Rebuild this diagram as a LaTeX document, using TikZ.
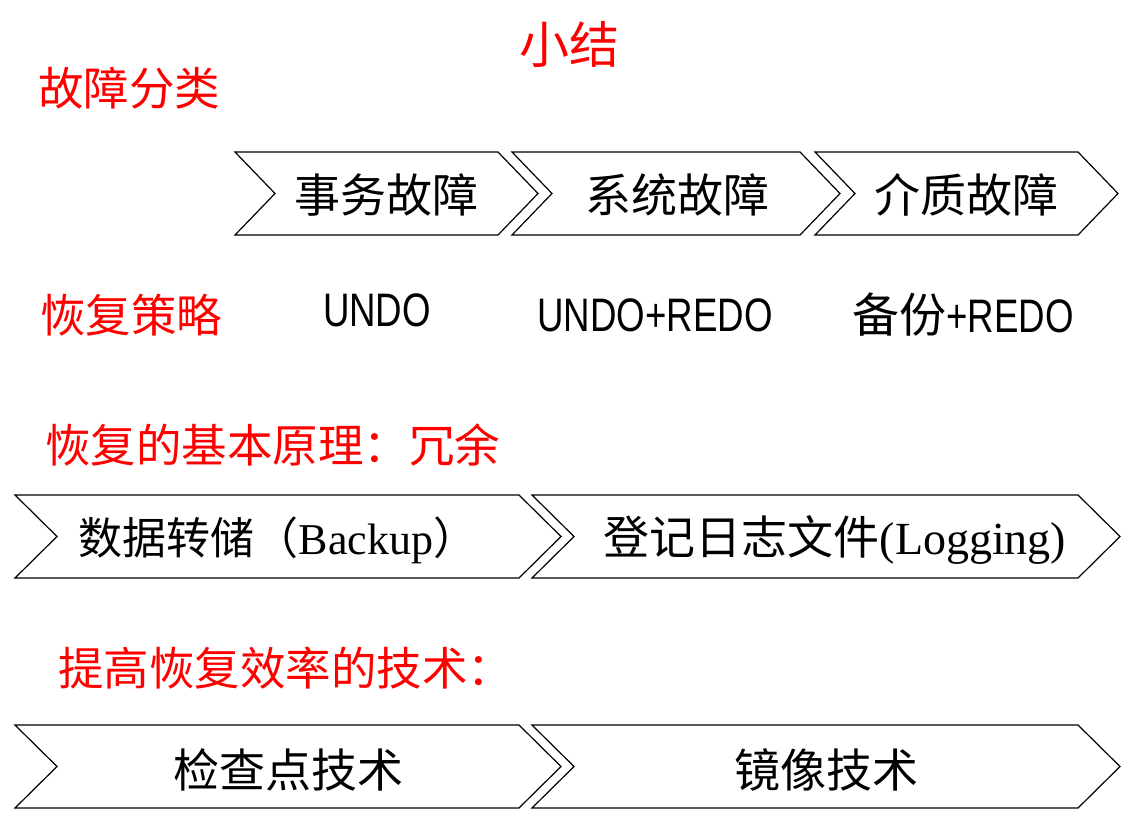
\documentclass[tikz,border=0pt]{standalone}
\usepackage{fontspec}
\setmainfont{Noto Sans CJK SC}
\newfontfamily\cjk{Noto Sans CJK SC}
\newfontfamily\latinserif{Liberation Serif}
\newfontfamily\latinsans{Liberation Sans}
\definecolor{titlered}{RGB}{255,0,0}
\newcommand{\chevshape}[5]{% left, right, top, bottom, depth
  \draw[chevline] (#1,#3) -- (#2,#3) -- ({#2+#5},{(#3+#4)/2}) -- (#2,#4) -- (#1,#4) -- ({#1+#5},{(#3+#4)/2}) -- cycle;}
\begin{document}
\begin{tikzpicture}[x=1pt,y=-1pt,
  chevline/.style={draw=black,line width=1.2pt,fill=white,line join=miter},
  heading/.style={text=titlered,anchor=west,inner sep=0pt,font=\cjk\fontsize{45.5}{50}\selectfont},
  chevtext/.style={text=black,inner sep=0pt,font=\cjk\fontsize{46}{52}\selectfont},
  strat/.style={text=black,inner sep=0pt,font=\latinsans\fontsize{47}{52}\selectfont}]
\useasboundingbox (0,0) rectangle (1137,836);
\fill[white] (0,0) rectangle (1137,836);
% title
\node[text=titlered,inner sep=0pt,font=\cjk\fontsize{50}{56}\selectfont] (title) at (569,44) {小结};
% section 1
\node[heading] (h1) at (38,88) {故障分类};
\chevshape{235}{498}{152}{235}{40}
\chevshape{512}{800}{152}{235}{40}
\chevshape{815}{1078}{152}{235}{40}
\node[chevtext] (c1) at (386,195) {事务故障};
\node[chevtext] (c2) at (677,195) {系统故障};
\node[chevtext] (c3) at (966,195) {介质故障};
% section 2
\node[heading] (h2) at (40,315) {恢复策略};
\node[strat] (s1) at (377,310) {\scalebox{0.78}[1]{UNDO}};
\node[strat] (s2) at (655,315) {\scalebox{0.78}[1]{UNDO+REDO}};
\node[strat] (s3) at (963,315) {{\cjk\fontsize{47}{52}\selectfont 备份}\scalebox{0.78}[1]{+REDO}};
% section 3
\node[heading] (h3) at (45,445) {恢复的基本原理：冗余};
\chevshape{15}{519}{495}{578}{42}
\chevshape{532}{1078}{495}{578}{42}
\node[chevtext,font=\cjk\fontsize{44}{50}\selectfont] (b1) at (278,540) {数据转储（{\latinserif Backup}）};
\node[chevtext] (b2) at (835,540) {登记日志文件{\latinserif (Logging)}};
% section 4
\node[heading] (h4) at (58,668) {提高恢复效率的技术：};
\chevshape{15}{519}{725}{808}{42}
\chevshape{532}{1078}{725}{808}{42}
\node[chevtext] (t1) at (288,770) {检查点技术};
\node[chevtext] (t2) at (826,770) {镜像技术};
\end{tikzpicture}
\end{document}
